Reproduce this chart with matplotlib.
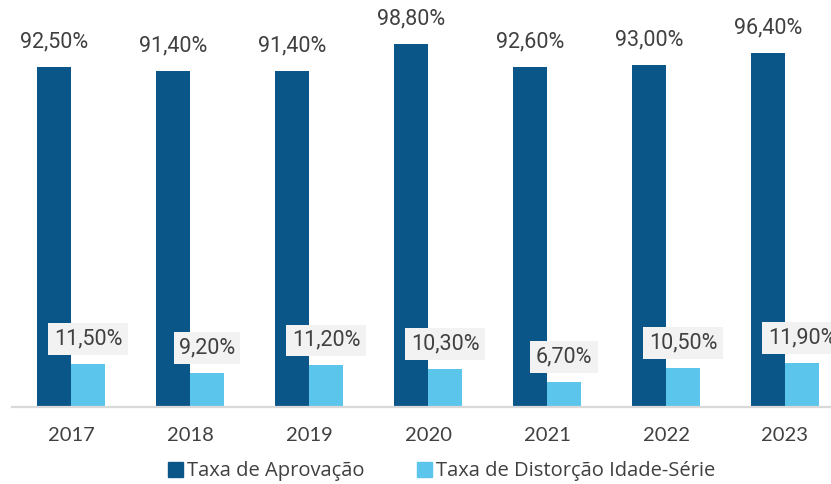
import matplotlib.pyplot as plt
import numpy as np
from matplotlib import font_manager
from matplotlib.patches import Patch

years = ["2017", "2018", "2019", "2020", "2021", "2022", "2023"]
aprovacao = [92.5, 91.4, 91.4, 98.8, 92.6, 93.0, 96.4]
distorcao = [11.5, 9.2, 11.2, 10.3, 6.7, 10.5, 11.9]
series_names = ["Taxa de Aprovação", "Taxa de Distorção Idade-Série"]

dark = "#0B5689"
light = "#5BC5EB"
text_color = "#404040"


def pct(v):
    return f"{v:.2f}%".replace(".", ",")


def main():
    installed = {f.name for f in font_manager.fontManager.ttflist}
    year_font = "Liberation Sans Narrow" if "Liberation Sans Narrow" in installed else "Lato"

    fig = plt.figure(figsize=(8.31, 4.84), dpi=100)
    ax = fig.add_axes([11.5 / 831, 77.5 / 484, 833 / 831, 367 / 484])

    x = np.arange(len(years))
    width = 34 / 119

    bars1 = ax.bar(x - width / 2, aprovacao, width, color=dark)
    bars2 = ax.bar(x + width / 2, distorcao, width, color=light)

    for bar, v in zip(bars1, aprovacao):
        ax.annotate(pct(v), (bar.get_x() + bar.get_width() / 2, bar.get_height()),
                    xytext=(0, 18), textcoords="offset points",
                    ha="center", va="center", fontsize=15.5,
                    family="Roboto", color=text_color)
    for bar, v in zip(bars2, distorcao):
        ax.annotate(pct(v), (bar.get_x() + bar.get_width() / 2, bar.get_height()),
                    xytext=(0, 18), textcoords="offset points",
                    ha="center", va="center", fontsize=15.5,
                    family="Roboto", color=text_color,
                    bbox=dict(boxstyle="square,pad=0.25", fc="#F2F2F2", ec="none"))

    ax.set_xlim(-0.5, len(years) - 0.5)
    ax.set_ylim(0, 100)
    ax.set_xticks(x)
    ax.set_xticklabels(years, family=[year_font, "DejaVu Sans"],
                       fontsize=14.5, color=text_color)
    ax.tick_params(axis="x", length=0, pad=15)
    ax.set_yticks([])
    for side in ["top", "right", "left"]:
        ax.spines[side].set_visible(False)
    ax.spines["bottom"].set_color("#D9D9D9")
    ax.spines["bottom"].set_linewidth(1.6)

    handles = [Patch(color=dark), Patch(color=light)]
    fig.legend(handles, series_names, loc="center", bbox_to_anchor=(0.531, 0.026),
               ncol=2, frameon=False, handlelength=0.75, handleheight=0.75,
               handletextpad=0.2, columnspacing=2.6,
               prop={"family": "Open Sans", "size": 14.5}, labelcolor=text_color)

    fig.savefig("out.png", dpi=100)
    plt.close(fig)


if __name__ == "__main__":
    main()
